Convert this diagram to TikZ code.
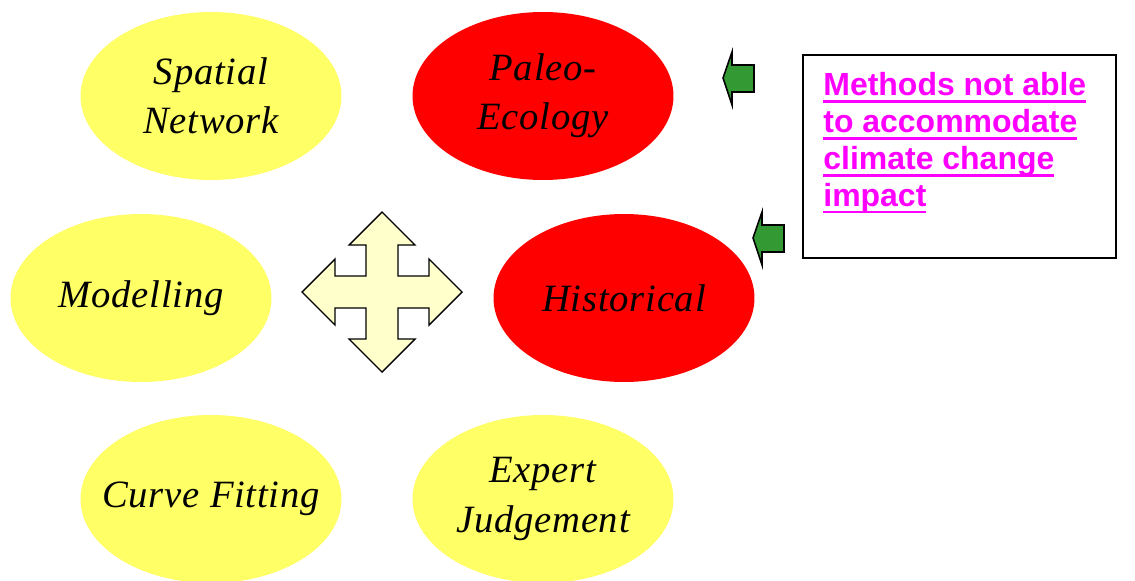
\documentclass[tikz,border=0pt]{standalone}
\usepackage{fontspec}
\usepackage{xcolor}
\setmainfont{Liberation Serif}
\newfontfamily\ovalfont[LetterSpace=2]{Liberation Serif}
\newfontfamily\notefont{Liberation Sans}
\definecolor{ovalYellow}{HTML}{FFFF66}
\definecolor{ovalRed}{HTML}{FF0000}
\definecolor{crossFill}{HTML}{FFFFCC}
\definecolor{pointGreen}{HTML}{339933}
\definecolor{noteMagenta}{HTML}{FF00FF}
\newsavebox{\notebox}
\newcommand{\noteline}[1]{\sbox{\notebox}{#1}\rlap{\rule[-4.1pt]{\wd\notebox}{1.6pt}}\usebox{\notebox}}
\usetikzlibrary{shapes.geometric}

\begin{document}
\begin{tikzpicture}[
  x=0.02cm, y=-0.02cm,
  method/.style={ellipse, fill=ovalYellow, minimum width=5.22cm, minimum height=3.36cm, align=center, inner xsep=-0.6cm, inner ysep=0pt, font=\ovalfont\itshape\fontsize{22}{28}\selectfont, text=black},
  failed/.style={method, fill=ovalRed},
  cross/.style={draw=black, line width=0.8pt, fill=crossFill, line join=miter},
  pointer/.style={draw=black, line width=0.9pt, fill=pointGreen},
  note/.style={draw=black, line width=1.2pt, fill=white}
]
\useasboundingbox (0,0) rectangle (1135,581);

% Method ovals
\node[method] (spatial) at (211,96) {Spatial\\Network};
\node[failed] (paleo) at (543,96) {Paleo-\\Ecology};
\node[method] (modelling) at (141,298) {Modelling};
\node[failed] (historical) at (624,298) {Historical};
\node[method] (curve) at (211,499) {Curve Fitting};
\node[method] (expert) at (543,499) {Expert\\Judgement};

% Four-way arrow in the middle
\begin{scope}[shift={(382,292)}]
\draw[cross] (0,-80) -- (33,-47) -- (16,-47) -- (16,-16) -- (47,-16) -- (47,-33) -- (80,0)
  -- (47,33) -- (47,16) -- (16,16) -- (16,47) -- (33,47) -- (0,80)
  -- (-33,47) -- (-16,47) -- (-16,16) -- (-47,16) -- (-47,33) -- (-80,0)
  -- (-47,-33) -- (-47,-16) -- (-16,-16) -- (-16,-47) -- (-33,-47) -- cycle;
\end{scope}

% Note box
\draw[note] (803,55) rectangle (1116,258);
\node[anchor=north west, align=left, inner sep=0pt, text=noteMagenta,
  font=\notefont\bfseries\fontsize{18.2}{21}\selectfont] (remark) at (823,72)
  {\noteline{Methods not able}\\\noteline{to accommodate}\\\noteline{climate change}\\\noteline{impact}};

% Green pointers
\draw[pointer] (723,78) -- (732,52) -- (732,65) -- (754,65) -- (754,92) -- (732,92) -- (732,105) -- cycle;
\draw[pointer] (753,238) -- (762,212) -- (762,225) -- (784,225) -- (784,252) -- (762,252) -- (762,265) -- cycle;

\end{tikzpicture}
\end{document}
